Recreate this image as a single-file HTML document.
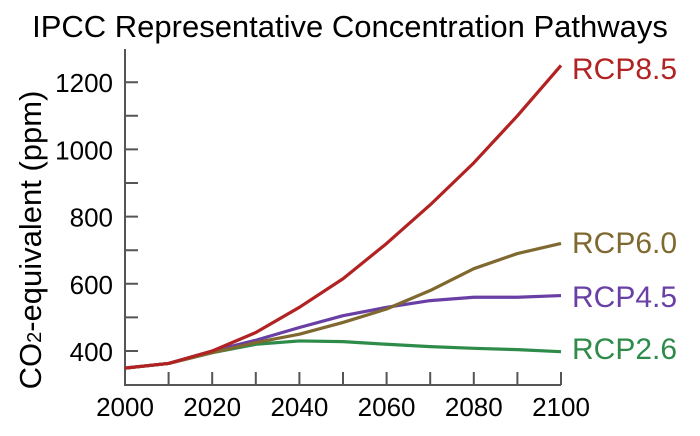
<!DOCTYPE html>
<html><head><meta charset="utf-8"><style>
body{margin:0;background:#fff;width:700px;height:431px;overflow:hidden}
text{font-family:"Liberation Sans",sans-serif}
</style></head><body>
<svg id="s" width="700" height="431" xmlns="http://www.w3.org/2000/svg">
<text x="350" y="37" font-size="31" text-anchor="middle" fill="#000">IPCC Representative Concentration Pathways</text>
<text transform="translate(41,240) rotate(-90)" font-size="31" text-anchor="middle">CO<tspan font-size="20">2</tspan>-equivalent (ppm)</text>
<g id="ax" stroke="#555" stroke-width="2" fill="none"><path d="M125,49 V385 H561"/></g>
<g id="lab" font-size="26"></g>
<g id="ln" fill="none" stroke-width="3.2" stroke-linejoin="round"></g>
<g font-size="30">
<text x="572" y="79" fill="#b22222">RCP8.5</text>
<text x="572" y="253" fill="#7f6930">RCP6.0</text>
<text x="572" y="307" fill="#6a3fa5">RCP4.5</text>
<text x="572" y="359" fill="#2e8b4a">RCP2.6</text>
</g>
</svg>
<script>
var NS="http://www.w3.org/2000/svg";
function X(y){return 125+(y-2000)*4.36}
function Y(p){return 351-(p-400)*0.336}
var ax=document.getElementById('ax'),lab=document.getElementById('lab'),ln=document.getElementById('ln');
var d="";
for(var yr=2010;yr<=2100;yr+=10)d+="M"+X(yr)+",385 v-13 ";
for(var p=400;p<=1200;p+=100)d+="M125,"+Y(p)+" h13 ";
var pa=document.createElementNS(NS,"path");pa.setAttribute("d",d);ax.appendChild(pa);
function t(x,y,s,a){var e=document.createElementNS(NS,"text");e.setAttribute("x",x);e.setAttribute("y",y);e.setAttribute("text-anchor",a);e.textContent=s;lab.appendChild(e);}
for(var yr=2000;yr<=2100;yr+=20)t(X(yr),416,yr,"middle");
for(var p=400;p<=1200;p+=200)t(113,Y(p)+10,p,"end");
var S=[
["#2e8b4a",[349,363,395,420,430,428,420,413,408,404,398]],
["#6a3fa5",[349,363,400,432,470,505,530,550,560,560,565]],
["#7f6930",[349,363,395,425,450,485,525,580,645,690,720]],
["#b22222",[349,363,400,455,530,615,720,835,960,1100,1250]]];
S.forEach(function(s){var pts=s[1].map(function(v,i){return X(2000+10*i)+","+Y(v)}).join(" ");
var pl=document.createElementNS(NS,"polyline");pl.setAttribute("points",pts);pl.setAttribute("stroke",s[0]);ln.appendChild(pl);});
</script>
</body></html>
